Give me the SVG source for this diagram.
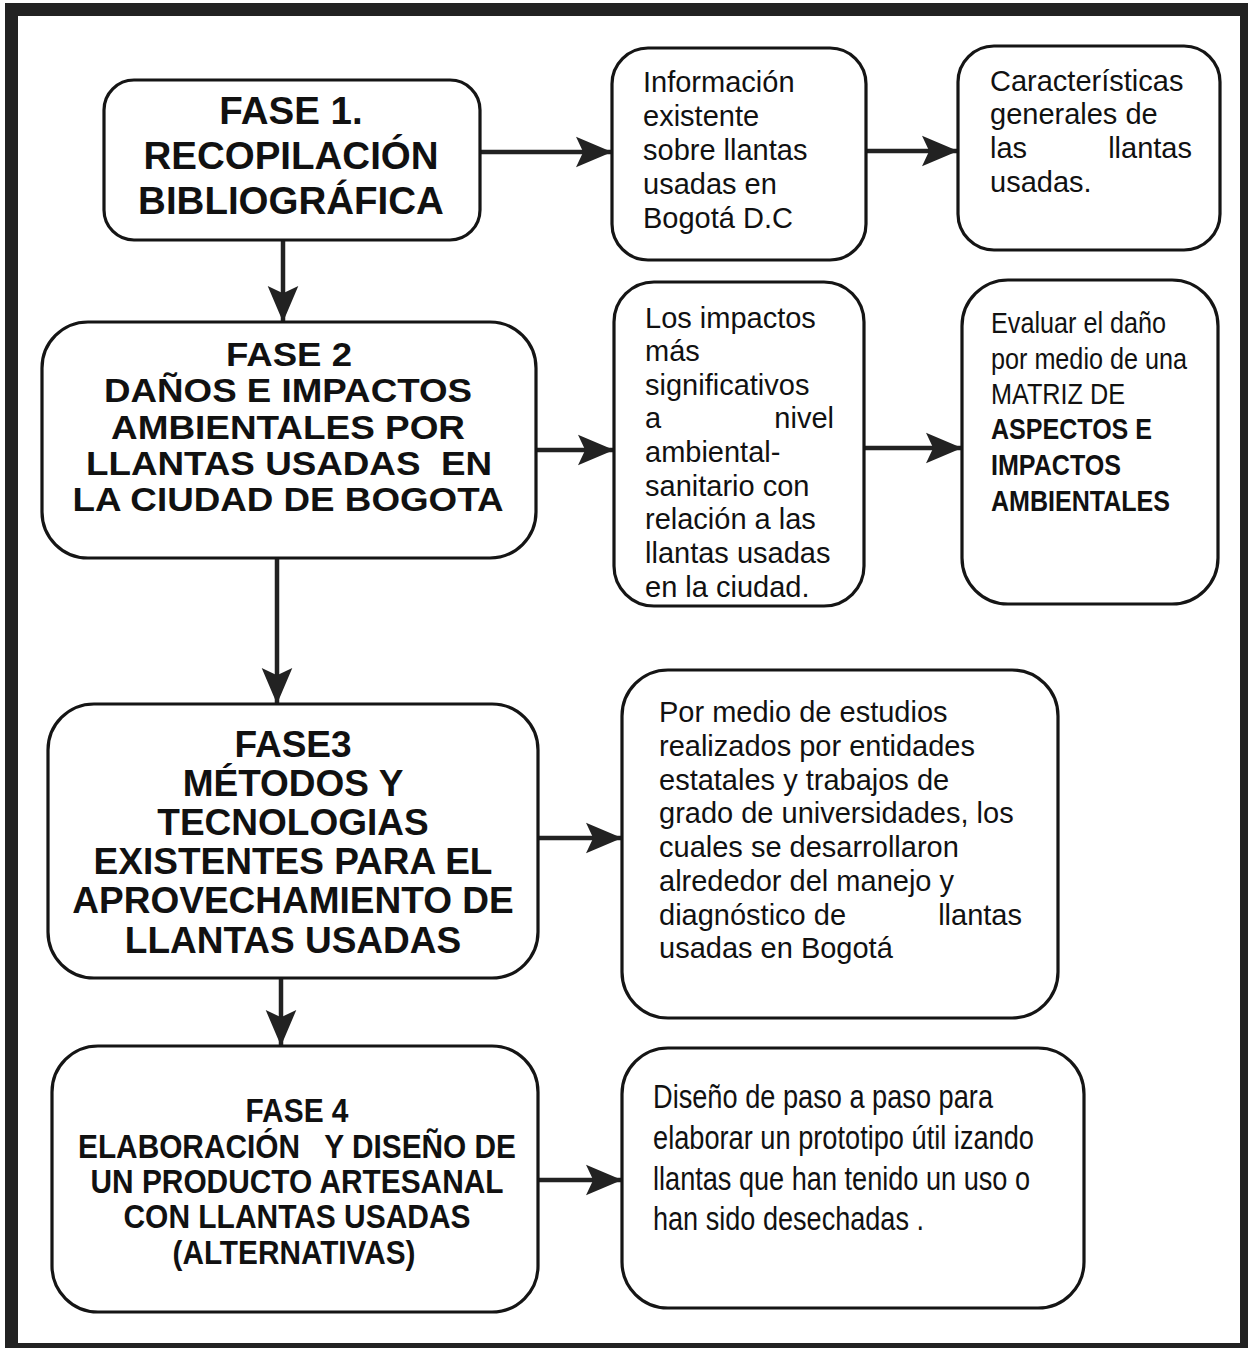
<svg xmlns="http://www.w3.org/2000/svg" width="1248" height="1348" viewBox="0 0 1248 1348">
<defs>
<style>
.box{fill:#fff;stroke:#151515;stroke-width:3.2}
.ph{font-family:"Liberation Sans",Arial,sans-serif;font-weight:bold;fill:#111;text-anchor:middle}
.tx{font-family:"Liberation Sans",Arial,sans-serif;fill:#111;font-size:29px}
.nw{font-family:"Liberation Sans",Arial,sans-serif;fill:#111}
.end{text-anchor:end}
.con{stroke:#222;stroke-width:4.5;fill:none;marker-end:url(#ah)}
</style>
<marker id="ah" markerWidth="8" markerHeight="8" viewBox="0 0 8 8" refX="8" refY="4" orient="auto" markerUnits="strokeWidth">
<path d="M0,0.6 L8,4 L0,7.4 L1.6,4 Z" fill="#222"/>
</marker>
</defs>
<rect width="1248" height="1348" fill="#fff"/>
<path d="M5,3 H1248 V1348 H5 Z M18,16 V1343 H1240 V16 Z" fill="#222" fill-rule="evenodd"/>

<g id="connectors">
<line class="con" x1="480" y1="152" x2="612" y2="152"/>
<line class="con" x1="866" y1="151" x2="958" y2="151"/>
<line class="con" x1="283" y1="240" x2="283" y2="322"/>
<line class="con" x1="536" y1="450" x2="614" y2="450"/>
<line class="con" x1="864" y1="448" x2="962" y2="448"/>
<line class="con" x1="277" y1="558" x2="277" y2="704"/>
<line class="con" x1="538" y1="838" x2="622" y2="838"/>
<line class="con" x1="281" y1="978" x2="281" y2="1046"/>
<line class="con" x1="538" y1="1180" x2="622" y2="1180"/>
</g>

<g id="fase1">
<rect class="box" x="104" y="80" width="376" height="160" rx="30"/>
<text class="ph" font-size="38.5" x="291" y="124">FASE 1.</text>
<text class="ph" font-size="38.5" x="291" y="169">RECOPILACIÓN</text>
<text class="ph" font-size="38.5" x="291" y="214">BIBLIOGRÁFICA</text>
</g>

<g id="info">
<rect class="box" x="612" y="48" width="254" height="212" rx="36"/>
<text class="tx" x="643" y="92">Información</text>
<text class="tx" x="643" y="126">existente</text>
<text class="tx" x="643" y="160">sobre llantas</text>
<text class="tx" x="643" y="194">usadas en</text>
<text class="tx" x="643" y="228">Bogotá D.C</text>
</g>

<g id="caracteristicas">
<rect class="box" x="958" y="46" width="262" height="204" rx="36"/>
<text class="tx" x="990" y="91">Características</text>
<text class="tx" x="990" y="124">generales de</text>
<text class="tx" x="990" y="158">las</text>
<text class="tx end" x="1192" y="158">llantas</text>
<text class="tx" x="990" y="192">usadas.</text>
</g>

<g id="fase2">
<rect class="box" x="42" y="322" width="494" height="236" rx="46"/>
<text class="ph" font-size="34" x="289" y="366" textLength="126" lengthAdjust="spacingAndGlyphs">FASE 2</text>
<text class="ph" font-size="34" x="288" y="402" textLength="368" lengthAdjust="spacingAndGlyphs">DAÑOS E IMPACTOS</text>
<text class="ph" font-size="34" x="288" y="439" textLength="354" lengthAdjust="spacingAndGlyphs">AMBIENTALES POR</text>
<text class="ph" font-size="34" x="289" y="475" textLength="406" lengthAdjust="spacingAndGlyphs" xml:space="preserve">LLANTAS USADAS  EN</text>
<text class="ph" font-size="34" x="288" y="511" textLength="431" lengthAdjust="spacingAndGlyphs">LA CIUDAD DE BOGOTA</text>
</g>

<g id="impactos">
<rect class="box" x="614" y="282" width="250" height="324" rx="40"/>
<text class="tx" x="645" y="328">Los impactos</text>
<text class="tx" x="645" y="361">más</text>
<text class="tx" x="645" y="395">significativos</text>
<text class="tx" x="645" y="428">a</text>
<text class="tx end" x="834" y="428">nivel</text>
<text class="tx" x="645" y="462">ambiental-</text>
<text class="tx" x="645" y="496">sanitario con</text>
<text class="tx" x="645" y="529">relación a las</text>
<text class="tx" x="645" y="563">llantas usadas</text>
<text class="tx" x="645" y="597">en la ciudad.</text>
</g>

<g id="evaluar">
<rect class="box" x="962" y="280" width="256" height="324" rx="46"/>
<text class="nw" font-size="30" x="991" y="333" textLength="175" lengthAdjust="spacingAndGlyphs">Evaluar el daño</text>
<text class="nw" font-size="30" x="991" y="369" textLength="196" lengthAdjust="spacingAndGlyphs">por medio de una</text>
<text class="nw" font-size="30" x="991" y="404" textLength="134" lengthAdjust="spacingAndGlyphs">MATRIZ DE</text>
<text class="nw" font-size="30" font-weight="bold" x="991" y="439" textLength="161" lengthAdjust="spacingAndGlyphs">ASPECTOS E</text>
<text class="nw" font-size="30" font-weight="bold" x="991" y="475" textLength="130" lengthAdjust="spacingAndGlyphs">IMPACTOS</text>
<text class="nw" font-size="30" font-weight="bold" x="991" y="511" textLength="179" lengthAdjust="spacingAndGlyphs">AMBIENTALES</text>
</g>

<g id="fase3">
<rect class="box" x="48" y="704" width="490" height="274" rx="46"/>
<text class="ph" font-size="37" x="293" y="757">FASE3</text>
<text class="ph" font-size="37" x="293" y="796">MÉTODOS Y</text>
<text class="ph" font-size="37" x="293" y="835">TECNOLOGIAS</text>
<text class="ph" font-size="37" x="293" y="874">EXISTENTES PARA EL</text>
<text class="ph" font-size="37" x="293" y="913">APROVECHAMIENTO DE</text>
<text class="ph" font-size="37" x="293" y="953">LLANTAS USADAS</text>
</g>

<g id="estudios">
<rect class="box" x="622" y="670" width="436" height="348" rx="46"/>
<text class="tx" x="659" y="722">Por medio de estudios</text>
<text class="tx" x="659" y="756">realizados por entidades</text>
<text class="tx" x="659" y="790">estatales y trabajos de</text>
<text class="tx" x="659" y="823">grado de universidades, los</text>
<text class="tx" x="659" y="857">cuales se desarrollaron</text>
<text class="tx" x="659" y="891">alrededor del manejo y</text>
<text class="tx" x="659" y="925">diagnóstico de</text>
<text class="tx end" x="1022" y="925">llantas</text>
<text class="tx" x="659" y="958">usadas en Bogotá</text>
</g>

<g id="fase4">
<rect class="box" x="52" y="1046" width="486" height="266" rx="46"/>
<text class="ph" font-size="33" x="297" y="1122" textLength="103" lengthAdjust="spacingAndGlyphs">FASE 4</text>
<text class="ph" font-size="33" x="297" y="1158" textLength="438" lengthAdjust="spacingAndGlyphs" xml:space="preserve">ELABORACIÓN   Y DISEÑO DE</text>
<text class="ph" font-size="33" x="297" y="1193" textLength="413" lengthAdjust="spacingAndGlyphs">UN PRODUCTO ARTESANAL</text>
<text class="ph" font-size="33" x="297" y="1228" textLength="347" lengthAdjust="spacingAndGlyphs">CON LLANTAS USADAS</text>
<text class="ph" font-size="33" x="294" y="1264" textLength="243" lengthAdjust="spacingAndGlyphs">(ALTERNATIVAS)</text>
</g>

<g id="diseno">
<rect class="box" x="622" y="1048" width="462" height="260" rx="46"/>
<text class="nw" font-size="33" x="653" y="1108" textLength="340" lengthAdjust="spacingAndGlyphs">Diseño de paso a paso para</text>
<text class="nw" font-size="33" x="653" y="1149" textLength="381" lengthAdjust="spacingAndGlyphs">elaborar un prototipo útil izando</text>
<text class="nw" font-size="33" x="653" y="1190" textLength="377" lengthAdjust="spacingAndGlyphs">llantas que han tenido un uso o</text>
<text class="nw" font-size="33" x="653" y="1230" textLength="271" lengthAdjust="spacingAndGlyphs">han sido desechadas .</text>
</g>
</svg>
